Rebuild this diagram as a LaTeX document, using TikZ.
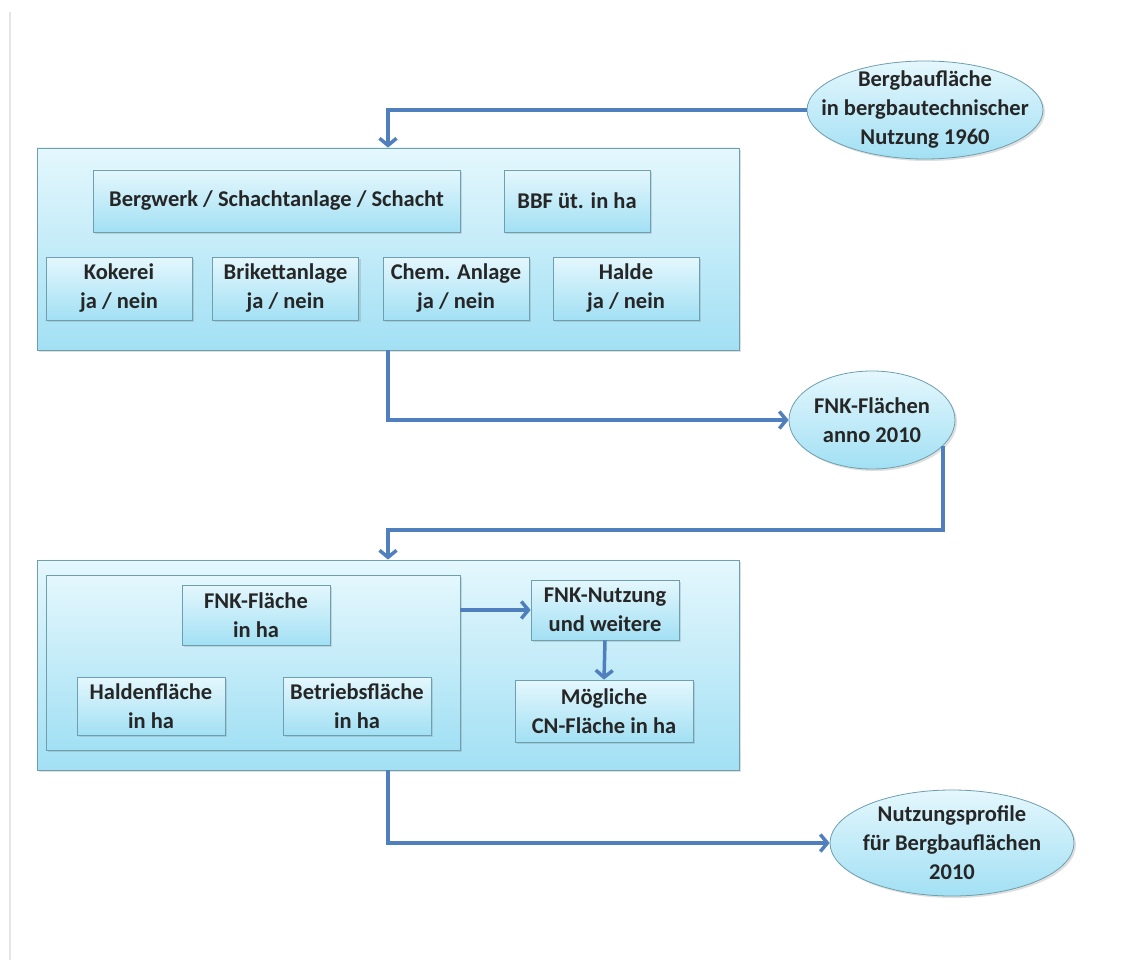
\documentclass[tikz,border=0pt]{standalone}
\usepackage{fontspec}
\setmainfont{Carlito}
\usepackage{tikz}
\usetikzlibrary{arrows.meta,shapes.geometric,shadows}
\definecolor{boxtop}{HTML}{E4F7FD}
\definecolor{boxbot}{HTML}{A2E0F4}
\definecolor{boxline}{HTML}{6E9FAE}
\definecolor{flowblue}{HTML}{4F7FBC}

\begin{document}
\begin{tikzpicture}[x=1pt,y=-1pt,
    panel/.style={rectangle, draw=boxline, line width=0.8pt, top color=boxtop,
      bottom color=boxbot, inner sep=0pt,
      drop shadow={shadow xshift=2pt,shadow yshift=-2pt,opacity=0.25}},
    cell/.style={panel, align=center, text=black!85,
      font=\fontsize{22.5}{29}\selectfont\bfseries},
    oval/.style={cell, ellipse, inner xsep=-22pt, inner ysep=-8pt},
    flow/.style={draw=flowblue, line width=3.5pt, ->},
    >={Straight Barb[length=7pt,width=17pt]}]
  \path[use as bounding box, fill=white] (0,0) rectangle (1145,960);
  \draw[gray!20, line width=2.5pt] (10,12) -- (10,960);
  \node[oval, minimum width=236, minimum height=98] (E1) at (925,110)
    {Bergbaufläche\\in bergbautechnischer\\Nutzung 1960};
  \node[panel, minimum width=702, minimum height=202] (P1) at (388,249) {};
  \node[cell, minimum width=367, minimum height=62] (mine) at (276.5,201)
    {Bergwerk / Schachtanlage / Schacht};
  \node[cell, minimum width=146, minimum height=62] (bbf) at (577,201)
    {BBF üt. in ha};
  \node[cell, minimum width=146, minimum height=63] (coke) at (119,288.5)
    {Kokerei\\ja / nein};
  \node[cell, minimum width=146, minimum height=63] (brik) at (285.5,288.5)
    {Brikettanlage\\ja / nein};
  \node[cell, minimum width=146, minimum height=63] (chem) at (456,288.5)
    {Chem. Anlage\\ja / nein};
  \node[cell, minimum width=146, minimum height=63] (halde) at (626,288.5)
    {Halde\\ja / nein};
  \node[oval, minimum width=166, minimum height=98] (E2) at (872,420)
    {FNK-Flächen\\anno 2010};
  \node[panel, minimum width=702, minimum height=210] (P2) at (388,665) {};
  \node[panel, minimum width=414, minimum height=175] (grp) at (253,662.5) {};
  \node[cell, minimum width=148, minimum height=60] (fnk) at (256,615)
    {FNK-Fläche\\in ha};
  \node[cell, minimum width=148, minimum height=58] (hald) at (151,706)
    {Haldenfläche\\in ha};
  \node[cell, minimum width=148, minimum height=58] (betr) at (357,706)
    {Betriebsfläche\\in ha};
  \node[cell, minimum width=148, minimum height=60] (use) at (605,610)
    {FNK-Nutzung\\und weitere};
  \node[cell, minimum width=178, minimum height=62] (cn) at (604,711)
    {Mögliche\\CN-Fläche in ha};
  \node[oval, minimum width=244, minimum height=106] (E3) at (952,843)
    {Nutzungsprofile\\für Bergbauflächen\\2010};
  \coordinate (turn) at (388,530);
  \draw[flow] (E1.west) -| (P1.north);
  \draw[flow] (P1.south) |- (E2.west);
  \draw[flow] (E2.-20) |- (turn) -- (P2.north);
  \draw[flow] (grp.east |- use.west) -- (use.west);
  \draw[flow] (use.south) -- (cn.north);
  \draw[flow] (P2.south) |- (E3.west);
\end{tikzpicture}
\end{document}
